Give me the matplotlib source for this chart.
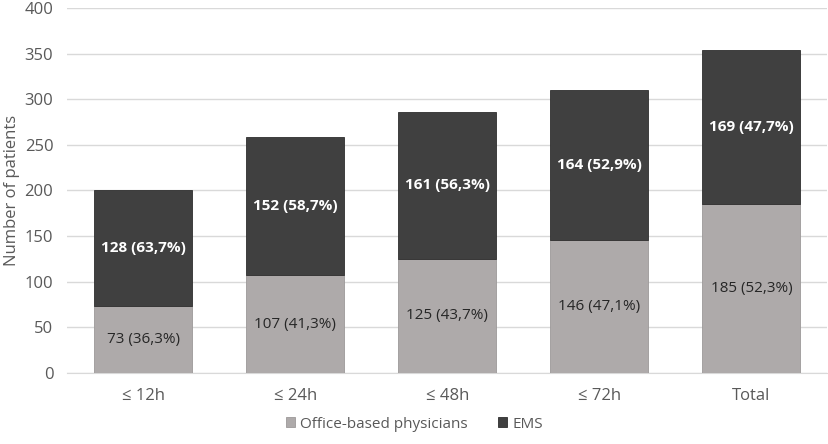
import matplotlib
matplotlib.use("Agg")
import matplotlib.pyplot as plt
import numpy as np

categories = ["≤ 12h", "≤ 24h", "≤ 48h", "≤ 72h", "Total"]
office = [73, 107, 125, 146, 185]
ems = [128, 152, 161, 164, 169]
office_pct = ["36,3", "41,3", "43,7", "47,1", "52,3"]
ems_pct = ["63,7", "58,7", "56,3", "52,9", "47,7"]

plt.rcParams['font.family'] = ['Open Sans', 'DejaVu Sans']

fig = plt.figure(figsize=(8.29, 4.44), dpi=100)
ax = fig.add_axes([0.081, 0.16, 0.917, 0.822])

x = np.arange(len(categories))
w = 0.645
light = "#aeaaaa"
dark = "#404040"

ax.bar(x, office, w, color=light, edgecolor="#9c9999", linewidth=0.6,
       label="Office-based physicians", zorder=3)
ax.bar(x, ems, w, bottom=office, color=dark, edgecolor="#2e2e2e", linewidth=0.6,
       label="EMS", zorder=3)

for i in range(len(categories)):
    ax.text(x[i], office[i] / 2, "%d (%s%%)" % (office[i], office_pct[i]),
            ha="center", va="center", fontsize=11, color="#262626", zorder=4)
    ax.text(x[i], office[i] + ems[i] / 2, "%d (%s%%)" % (ems[i], ems_pct[i]),
            ha="center", va="center", fontsize=11, color="white",
            fontweight="bold", zorder=4)

ax.set_ylim(0, 400)
ax.set_yticks(range(0, 401, 50))
ax.set_xlim(-0.5, len(categories) - 0.5)
ax.set_xticks(x)
ax.set_xticklabels(categories)
ax.yaxis.grid(True, color="#d9d9d9", linewidth=1, zorder=0)
ax.set_axisbelow(True)
for s in ["top", "right", "left"]:
    ax.spines[s].set_visible(False)
ax.spines["bottom"].set_color("#d9d9d9")
ax.tick_params(axis="both", length=0, labelsize=12, colors="#595959")
ax.tick_params(axis="x", pad=11)
ax.tick_params(axis="y", pad=10)
ax.set_ylabel("Number of patients", fontsize=12, color="#595959", labelpad=3)

handles, labels = ax.get_legend_handles_labels()
leg = fig.legend(handles, labels, loc="center", bbox_to_anchor=(0.5, 0.045), ncol=2,
                 frameon=False, fontsize=11, handlelength=0.6, handleheight=0.6,
                 handletextpad=0.35, columnspacing=2.0)
for t in leg.get_texts():
    t.set_color("#595959")

fig.savefig("out.png", dpi=100)
